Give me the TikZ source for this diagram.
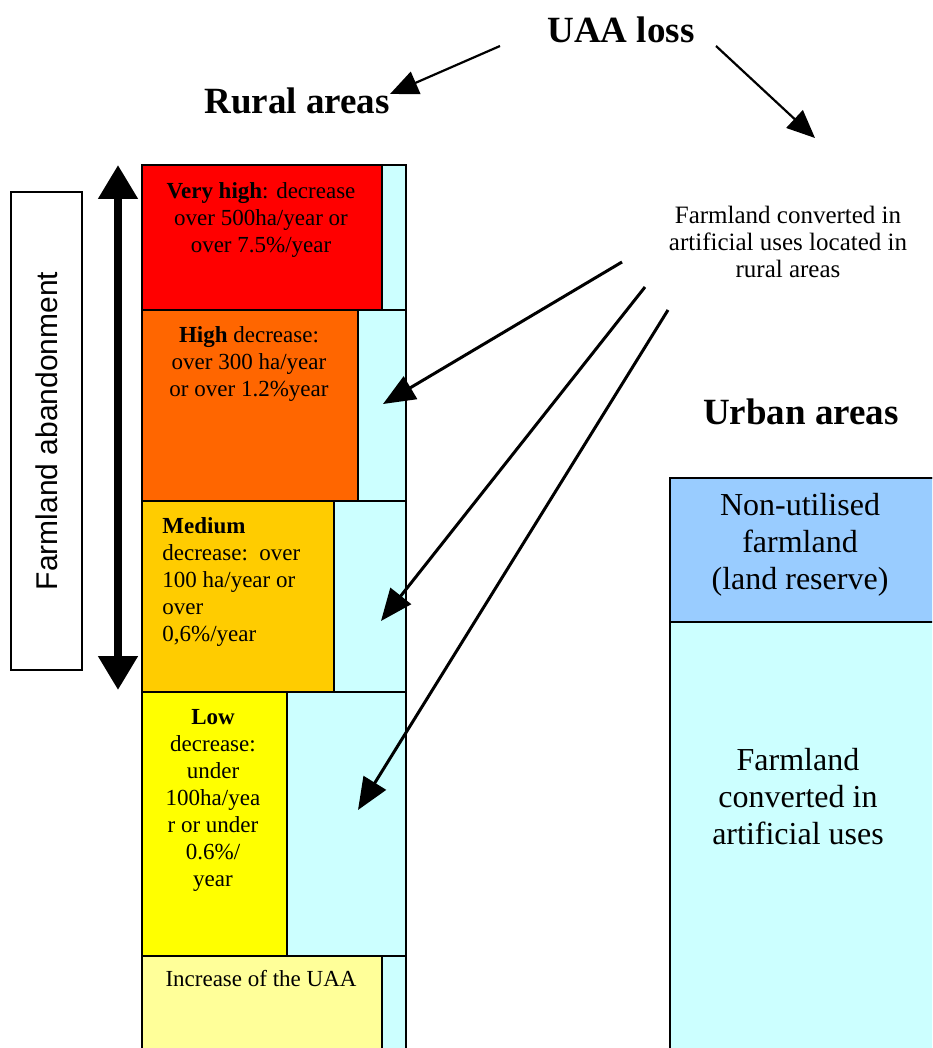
\documentclass[tikz,border=0pt]{standalone}
\usepackage{fontspec}
\setmainfont{Liberation Serif}
\newfontfamily\farmsans{Liberation Sans}
\usetikzlibrary{arrows.meta,positioning}
\definecolor{vhighred}{RGB}{255,0,0}
\definecolor{highorange}{RGB}{255,102,0}
\definecolor{mediumorange}{RGB}{255,204,0}
\definecolor{lowyellow}{RGB}{255,255,0}
\definecolor{paleyellow}{RGB}{255,255,153}
\definecolor{convcyan}{RGB}{204,255,255}
\definecolor{reserveblue}{RGB}{153,204,255}

\begin{document}
\begin{tikzpicture}[x=0.5pt,y=-0.5pt,
    cell/.style={draw, line width=0.9pt, anchor=north west, inner sep=0pt},
    celltext/.style={anchor=north, align=center, inner sep=0pt, font=\fontsize{11.5}{13.5}\selectfont},
    areatitle/.style={inner sep=0pt, font=\bfseries\fontsize{18.5}{21}\selectfont},
    lossarrow/.style={-{Triangle[length=14pt,width=12pt]}, line width=1.1pt},
    convarrow/.style={-{Triangle[length=16pt,width=13pt]}, line width=1.5pt},
    spanarrow/.style={{Triangle[length=17pt,width=19pt]}-{Triangle[length=17pt,width=19pt]}, line width=4pt}
  ]
  \useasboundingbox (0,0) rectangle (932,1048);
  \clip (0,0) rectangle (932,1048);

  % titles
  \node[areatitle] (uaa) at (621,30) {UAA loss};
  \node[areatitle] (rural) at (297,101) {Rural areas};
  \node[areatitle] (urban) at (801,412) {Urban areas};

  % rural column: cyan strips first, classes on top
  \node[cell, fill=convcyan, minimum width=132pt, minimum height=72.5pt] (strip1) at (141,164) {};
  \node[cell, fill=convcyan, minimum width=132pt, minimum height=95.5pt] (strip2) at (141,309) {};
  \node[cell, fill=convcyan, minimum width=132pt, minimum height=95.5pt] (strip3) at (141,500) {};
  \node[cell, fill=convcyan, minimum width=132pt, minimum height=132pt] (strip4) at (141,691) {};
  \node[cell, fill=convcyan, minimum width=132pt, minimum height=60pt] (strip5) at (141,955) {};

  \node[cell, fill=vhighred, minimum width=120pt, minimum height=72.5pt] (vhigh) at (141,164) {};
  \node[cell, fill=highorange, minimum width=108pt, minimum height=95.5pt] (high) at (141,309) {};
  \node[cell, fill=mediumorange, minimum width=96pt, minimum height=95.5pt] (medium) at (141,500) {};
  \node[cell, fill=lowyellow, minimum width=72.5pt, minimum height=132pt] (low) at (141,691) {};
  \node[cell, fill=paleyellow, minimum width=120pt, minimum height=60pt] (increase) at (141,955) {};

  \node[celltext] (vhightext) at (261,182) {\textbf{Very high}: decrease\\over 500ha/year or\\over 7.5\%/year};
  \node[celltext] (hightext) at (249,326) {\textbf{High} decrease:\\over 300 ha/year\\or over 1.2\%year};
  \node[celltext, anchor=north west, align=left] (mediumtext) at (162,517) {\textbf{Medium}\\decrease:~~over\\100 ha/year or\\over\\0,6\%/year};
  \node[celltext] (lowtext) at (213,709) {\textbf{Low}\\decrease:\\under\\100ha/yea\\r or under\\0.6\%/\\year};
  \node[celltext] (increasetext) at (261,970) {Increase of the UAA};

  % farmland abandonment
  \node[draw, line width=0.6pt, rotate=90, minimum width=239pt, minimum height=35.5pt,
        font=\farmsans\fontsize{15}{18}\selectfont] (abandon) at (46.5,431) {Farmland abandonment};
  \coordinate (spantop) at (118,165);
  \coordinate (spanbot) at (118,690);
  \draw[spanarrow] (spantop) -- (spanbot);

  % urban column
  \node[cell, fill=convcyan, minimum width=150pt, minimum height=300pt] (urbanconv) at (669,477) {};
  \node[cell, fill=reserveblue, minimum width=150pt, minimum height=72pt] (reserve) at (669,477) {};
  \node[anchor=north, align=center, inner sep=0pt, font=\fontsize{16}{18.5}\selectfont] (reservetext) at (800,493)
    {Non-utilised\\farmland\\(land reserve)};
  \node[anchor=north, align=center, inner sep=0pt, font=\fontsize{16}{18.5}\selectfont] (urbanconvtext) at (798,748)
    {Farmland\\converted in\\artificial uses};

  % rural conversions
  \node[anchor=north, align=center, inner sep=0pt, font=\fontsize{12.5}{13.5}\selectfont] (ruralconv) at (788,206)
    {Farmland converted in\\artificial uses located in\\rural areas};

  % arrows
  \coordinate (uaaleft) at (500,46);
  \coordinate (ruraltip) at (390,94);
  \coordinate (uaaright) at (716,46);
  \coordinate (urbantip) at (815,138);
  \draw[lossarrow] (uaaleft) -- (ruraltip);
  \draw[lossarrow] (uaaright) -- (urbantip);

  \coordinate (convtail1) at (622,262);
  \coordinate (convtail2) at (645,287);
  \coordinate (convtail3) at (668,310);
  \coordinate (convtip1) at (383,404);
  \coordinate (convtip2) at (381,621);
  \coordinate (convtip3) at (358,810);
  \draw[convarrow] (convtail1) -- (convtip1);
  \draw[convarrow] (convtail2) -- (convtip2);
  \draw[convarrow] (convtail3) -- (convtip3);
\end{tikzpicture}
\end{document}
